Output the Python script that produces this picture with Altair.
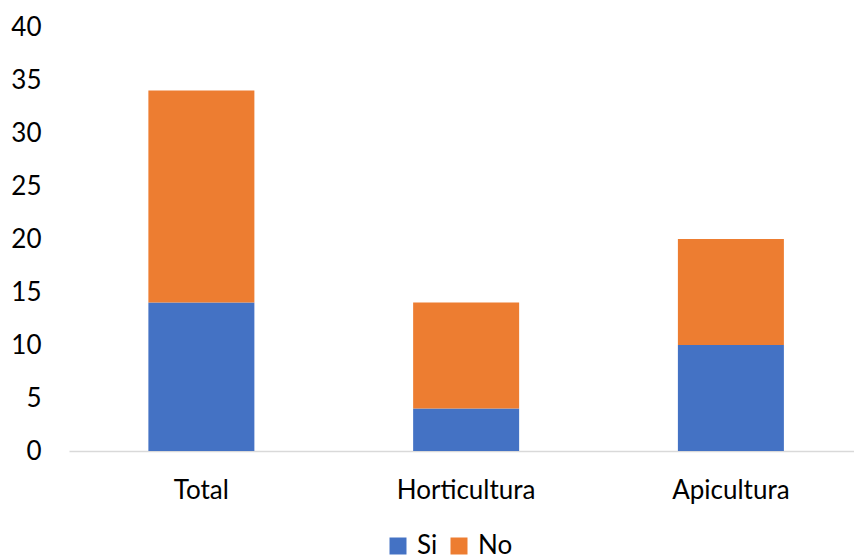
import altair as alt
import pandas as pd

categories = ["Total", "Horticultura", "Apicultura"]
series = ["Si", "No"]
si_values = [14, 4, 10]
no_values = [20, 10, 10]
colors = ["#4472C4", "#ED7D31"]

rows = []
for cat, si, no in zip(categories, si_values, no_values):
    rows.append({"categoria": cat, "respuesta": "Si", "valor": si, "orden": 0})
    rows.append({"categoria": cat, "respuesta": "No", "valor": no, "orden": 1})
df = pd.DataFrame(rows)

FONT = "Lato"
W, H = 785, 424

bars = alt.Chart(df).mark_bar(size=106).encode(
    x=alt.X(
        "categoria:N",
        sort=categories,
        scale=alt.Scale(paddingInner=0.6, paddingOuter=0.2825, align=0.531),
        axis=alt.Axis(
            title=None, labelAngle=0, ticks=False, tickSize=0, labelPadding=26,
            domain=True, domainColor="#D9D9D9", domainWidth=1.3,
            labelFont=FONT, labelFontSize=26, labelColor="#000000",
        ),
    ),
    y=alt.Y(
        "valor:Q",
        stack="zero",
        scale=alt.Scale(domain=[0, 40], nice=False),
        axis=alt.Axis(
            title=None, values=[0, 5, 10, 15, 20, 25, 30, 35, 40],
            grid=False, domain=False, ticks=False, tickSize=0, labelPadding=28,
            labelFont=FONT, labelFontSize=26, labelColor="#000000",
        ),
    ),
    color=alt.Color(
        "respuesta:N",
        sort=series,
        scale=alt.Scale(domain=series, range=colors),
        legend=alt.Legend(
            title=None, orient="none", direction="horizontal",
            legendX=316, legendY=506, padding=0,
            symbolType="square", symbolSize=289, symbolStrokeWidth=0,
            symbolOpacity=1, labelOffset=6, columnPadding=8,
            labelFont=FONT, labelFontSize=26, labelColor="#000000",
        ),
    ),
    order=alt.Order("orden:Q"),
)

chart = bars.properties(
    width=W,
    height=H,
    autosize=alt.AutoSizeParams(type="none"),
    padding={"left": 69, "top": 27, "right": 0, "bottom": 106},
    background="white",
).configure_view(stroke=None)

chart.save("out.html", embed_options={"renderer": "svg", "actions": False})
